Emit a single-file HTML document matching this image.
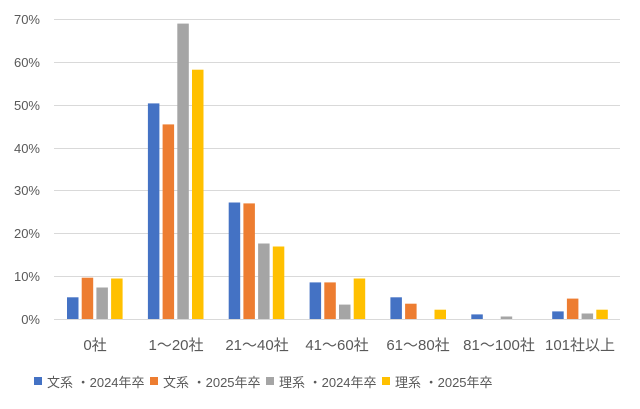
<!DOCTYPE html>
<html><head><meta charset="utf-8"><style>
html,body{margin:0;padding:0;background:#fff;}
svg{display:block;}
text{font-family:"Liberation Sans","Noto Sans CJK JP",sans-serif;fill:#595959;font-size:13px;}
.cat text{font-size:15px;}
</style></head><body>
<svg width="640" height="409" viewBox="0 0 640 409" xmlns="http://www.w3.org/2000/svg">
<g stroke="#d9d9d9" stroke-width="1">
<line x1="54" x2="620" y1="19.5" y2="19.5"/>
<line x1="54" x2="620" y1="62.5" y2="62.5"/>
<line x1="54" x2="620" y1="105.5" y2="105.5"/>
<line x1="54" x2="620" y1="148.5" y2="148.5"/>
<line x1="54" x2="620" y1="190.5" y2="190.5"/>
<line x1="54" x2="620" y1="233.5" y2="233.5"/>
<line x1="54" x2="620" y1="276.5" y2="276.5"/>
</g>
<g text-anchor="end">
<text x="40" y="24">70%</text>
<text x="40" y="67">60%</text>
<text x="40" y="110">50%</text>
<text x="40" y="153">40%</text>
<text x="40" y="195">30%</text>
<text x="40" y="238">20%</text>
<text x="40" y="281">10%</text>
<text x="40" y="324">0%</text>
</g>
<g fill="#4472c4">
<rect x="67" y="297.3" width="11.5" height="22.2"/>
<rect x="147.9" y="103.4" width="11.5" height="216.1"/>
<rect x="228.7" y="202.5" width="11.5" height="117"/>
<rect x="309.6" y="282.4" width="11.5" height="37.1"/>
<rect x="390.4" y="297.3" width="11.5" height="22.2"/>
<rect x="471.3" y="314.4" width="11.5" height="5.1"/>
<rect x="552.2" y="311.4" width="11.5" height="8.1"/>
</g>
<g fill="#ed7d31">
<rect x="81.7" y="277.7" width="11.5" height="41.8"/>
<rect x="162.6" y="124.4" width="11.5" height="195.1"/>
<rect x="243.4" y="203.4" width="11.5" height="116.1"/>
<rect x="324.3" y="282.4" width="11.5" height="37.1"/>
<rect x="405.1" y="303.7" width="11.5" height="15.8"/>
<rect x="566.9" y="298.6" width="11.5" height="20.9"/>
</g>
<g fill="#a5a5a5">
<rect x="96.4" y="287.5" width="11.5" height="32"/>
<rect x="177.3" y="23.6" width="11.5" height="295.9"/>
<rect x="258.1" y="243.5" width="11.5" height="76"/>
<rect x="339" y="304.6" width="11.5" height="14.9"/>
<rect x="500.7" y="316.5" width="11.5" height="3"/>
<rect x="581.6" y="313.5" width="11.5" height="6"/>
</g>
<g fill="#ffc000">
<rect x="111.1" y="278.5" width="11.5" height="41"/>
<rect x="192" y="69.7" width="11.5" height="249.8"/>
<rect x="272.8" y="246.5" width="11.5" height="73"/>
<rect x="353.7" y="278.5" width="11.5" height="41"/>
<rect x="434.5" y="309.7" width="11.5" height="9.8"/>
<rect x="596.3" y="309.7" width="11.5" height="9.8"/>
</g>
<line x1="54" x2="620" y1="319.5" y2="319.5" stroke="#d9d9d9"/>
<g class="cat" text-anchor="middle">
<text x="95" y="350">0社</text>
<text x="176" y="350">1～20社</text>
<text x="257" y="350">21～40社</text>
<text x="337" y="350">41～60社</text>
<text x="418" y="350">61～80社</text>
<text x="499" y="350">81～100社</text>
<text x="580" y="350">101社以上</text>
</g>
<rect x="34" y="377" width="8" height="8" fill="#4472c4"/>
<text x="47" y="387">文系 ・2024年卒</text>
<rect x="150" y="377" width="8" height="8" fill="#ed7d31"/>
<text x="163" y="387">文系 ・2025年卒</text>
<rect x="266" y="377" width="8" height="8" fill="#a5a5a5"/>
<text x="279" y="387">理系 ・2024年卒</text>
<rect x="382" y="377" width="8" height="8" fill="#ffc000"/>
<text x="395" y="387">理系 ・2025年卒</text>
</svg>
</body></html>
